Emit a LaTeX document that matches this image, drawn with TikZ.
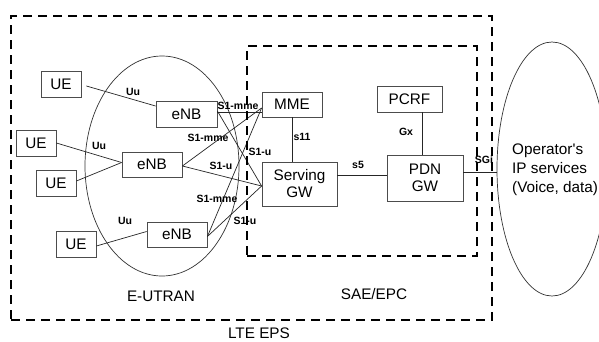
\documentclass[tikz,border=0pt]{standalone}
\usepackage{fontspec}
\setmainfont{Liberation Sans}
\usetikzlibrary{shapes.geometric,calc}
\begin{document}
\begin{tikzpicture}[x=1pt,y=-1pt,
 box/.style={draw=black!70,line width=0.8pt,rectangle,inner sep=0pt,font=\fontsize{15.3}{17}\selectfont,align=center},
 link/.style={draw=black!85,line width=0.7pt},
 lbl/.style={inner sep=0pt,font=\fontsize{10.5}{12}\selectfont\bfseries},
 big/.style={inner sep=0pt,font=\fontsize{15.3}{19}\selectfont},
 region/.style={draw=black,line width=2.6pt,dash pattern=on 9pt off 6pt,rectangle,inner sep=0pt},
 cloud/.style={draw=black!80,line width=0.7pt,ellipse,inner sep=0pt}]
\useasboundingbox (0,0) rectangle (599,341);
\fill[white] (0,0) rectangle (599,341);
% ellipses
\node[cloud,minimum width=154pt,minimum height=220pt] (eutran) at (162,166) {};
\node[cloud,minimum width=110pt,minimum height=254pt] (ip) at (552,169) {};
% boxes
\node[box,minimum width=40pt,minimum height=26pt] (ue1) at (61,84) {UE};
\node[box,minimum width=40pt,minimum height=26pt] (ue2) at (36,143) {UE};
\node[box,minimum width=40pt,minimum height=26pt] (ue3) at (56,183) {UE};
\node[box,minimum width=40pt,minimum height=26pt] (ue4) at (76,244.5) {UE};
\node[box,minimum width=61pt,minimum height=26pt] (enb1) at (186.5,114) {eNB};
\node[box,minimum width=60pt,minimum height=25pt] (enb2) at (152,164.5) {eNB};
\node[box,minimum width=60pt,minimum height=25pt] (enb3) at (177,234.5) {eNB};
\node[box,minimum width=60pt,minimum height=25pt] (mme) at (292,104.5) {MME};
\node[box,minimum width=75pt,minimum height=44pt] (sgw) at (299.5,184) {Serving\\GW};
\node[box,minimum width=65pt,minimum height=26pt] (pcrf) at (409.5,99) {PCRF};
\node[box,minimum width=76pt,minimum height=46pt] (pdn) at (425,178) {PDN\\GW};
% connectors
\draw[link] ([xshift=5pt,yshift=-2pt]ue1.east) -- ([yshift=8pt]enb1.west);
\draw[link] (ue2.east) -- ([yshift=2pt]enb2.west);
\draw[link] ([yshift=2pt]ue3.east) -- ([yshift=2pt]enb2.west);
\draw[link] ([yshift=-1.5pt]ue4.east) -- ([yshift=3pt]enb3.west);
\draw[link] ([yshift=2pt]enb1.east) coordinate (a) -- (a -| mme.west);
\draw[link] ([yshift=3pt]enb1.east) -- ([yshift=-2pt]sgw.west);
\draw[link] ([yshift=-1.5pt]enb2.east) -- ([yshift=-3.5pt]mme.west);
\draw[link] ([yshift=-1.5pt]enb2.east) -- ([yshift=-2pt]sgw.west);
\draw[link] ([yshift=-2pt]enb3.east) -- ([yshift=-3.5pt]mme.west);
\draw[link] ([yshift=-2pt]enb3.east) -- ([yshift=-2pt]sgw.west);
\draw[link] (mme.south) -- (mme.south |- sgw.north);
\draw[link] ([yshift=9pt]sgw.east) coordinate (b) -- (b -| pdn.west);
\draw[link] ([xshift=-3pt]pdn.north) coordinate (c) -- (c |- pcrf.south);
\draw[link] ([yshift=6pt]pdn.east) coordinate (d) -- (d -| ip.west);
% small labels
\node[lbl] (uu1) at (133,92) {Uu};
\node[lbl] (uu2) at (99,146) {Uu};
\node[lbl] (uu3) at (125,221) {Uu};
\node[lbl] (s1m1) at (238,106) {S1-mme};
\node[lbl] (s1m2) at (208,138) {S1-mme};
\node[lbl] (s1u1) at (260,152) {S1-u};
\node[lbl] (s1u2) at (221,166) {S1-u};
\node[lbl] (s1m3) at (217,199) {S1-mme};
\node[lbl] (s1u3) at (245,221) {S1-u};
\node[lbl] (s11) at (302,137) {s11};
\node[lbl] (gx) at (406,132) {Gx};
\node[lbl] (s5) at (358,165) {s5};
\node[lbl] (sgi) at (484,160) {SGi};
% region labels
\node[big] (teutran) at (161,296) {E-UTRAN};
\node[big] (tlte) at (259,333) {LTE EPS};
\node[big] (tsae) at (374,294) {SAE/EPC};
\node[big,align=left,anchor=north west] (tip) at (512,144) {Operator\textquotesingle s\\IP services\\(Voice, data)};
% dashed regions
\node[region,minimum width=481pt,minimum height=304pt] (eps) at (251.5,168) {};
\node[region,minimum width=230pt,minimum height=210pt] (epc) at (362,151) {};
\end{tikzpicture}
\end{document}
